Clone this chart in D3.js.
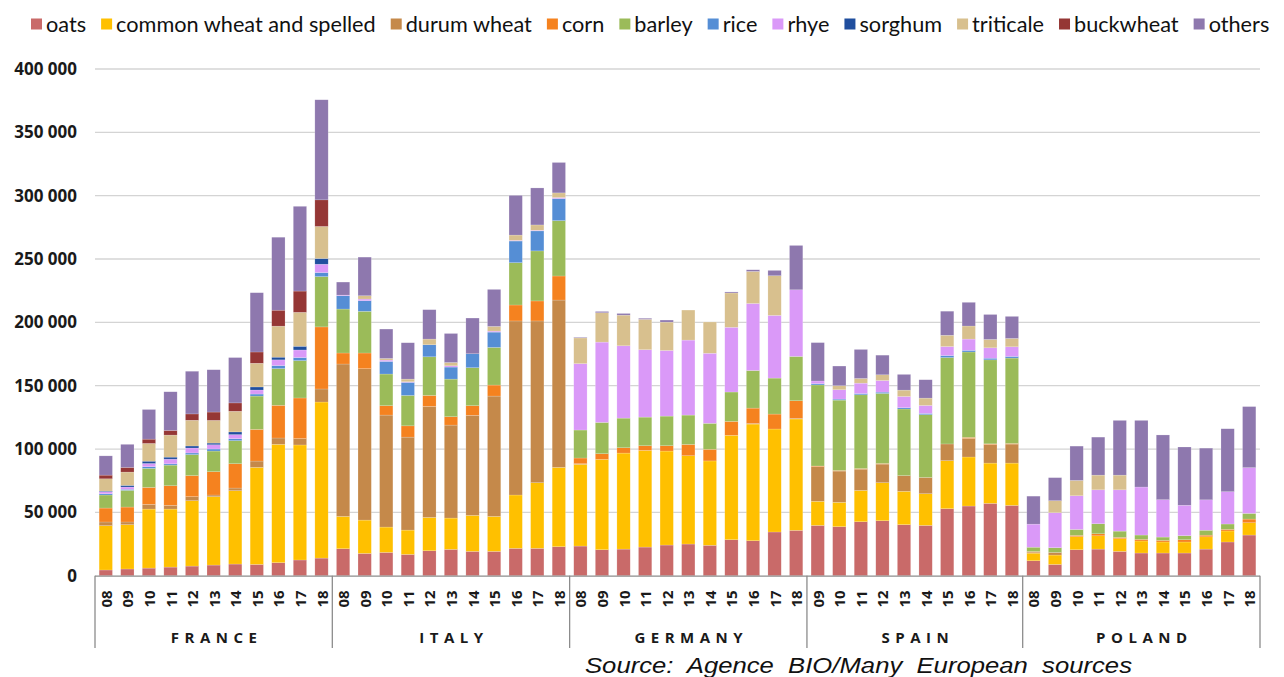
<!DOCTYPE html>
<html><head><meta charset="utf-8">
<script src="https://cdn.jsdelivr.net/npm/d3@7"></script>
<style>body{margin:0;background:#fff}svg{display:block}</style>
</head><body>
<svg id="c" width="1284" height="677"></svg>
<script>
// ---- data (values in thousand tonnes) ----
const countries = ["FRANCE", "ITALY", "GERMANY", "SPAIN", "POLAND"];
const yearsFrance  = ["08","09","10","11","12","13","14","15","16","17","18"];
const yearsItaly   = ["08","09","10","11","12","13","14","15","16","17","18"];
const yearsGermany = ["08","09","10","11","12","13","14","15","16","17","18"];
const yearsSpain   = ["09","10","11","12","13","14","15","16","17","18"];
const yearsPoland  = ["08","09","10","11","12","13","14","15","16","17","18"];
const countryYears = [yearsFrance, yearsItaly, yearsGermany, yearsSpain, yearsPoland];

const seriesNames = ["oats","common wheat and spelled","durum wheat","corn","barley","rice","rhye","sorghum","triticale","buckwheat","others"];
const seriesColors = ["#C96A69","#FFC000","#C5894A","#F5821F","#9BBB59","#558ED5","#DA99F8","#1F4E9E","#D8C08E","#953735","#8E78AE"];

// order: France(11), Italy(11), Germany(11), Spain(10), Poland(11)
const oats = [4.5,5.3,6,6.8,7.6,8.4,9.2,8.9,10.3,12.4,13.9,
  21.3,17.6,18.4,16.8,19.7,20.8,19.2,19.2,21.6,21.6,22.9,
  23.4,20.5,21,22.6,24.2,25,24,28.4,27.6,34.5,35.8,
  39.7,38.7,42.6,43.4,40.3,39.7,52.9,55,57.1,55.5,
  11.8,8.9,20.5,21,19.2,17.9,17.9,17.9,21,26.6,32.1];
const commonWheat = [35,35,46.6,45.8,51.6,54,57.9,76.6,93.4,90.8,123.2,
  25.5,26.3,20,19.2,26.3,24.7,28.4,27.6,42.1,51.8,62.6,
  64.5,71.3,75.8,76.3,74.2,69.7,66.6,82.4,92.1,81.3,87.9,
  19,19.2,24.7,30,26.3,25,37.9,38.7,31.8,33.4,
  6,7.4,10.3,10.5,10,9.5,8.7,8.7,9.7,8.7,9.7];
const durumWheat = [2.9,2.1,3.7,2.9,3.2,1.3,2.1,5,5,5,10.3,
  120.3,119.5,88.4,73.4,87.6,73.4,79,95,137.4,127.7,132.1,
  0.5,0,0,0,0,0,0,0,0.5,0,0.5,
  27.4,24.7,16.8,14.7,12.4,12.9,13.2,14.7,14.7,15,
  0.8,2.1,0,0,0,0,0,0,0,0,0];
const corn = [11,11.8,13.4,15.5,16.6,18.4,19.2,25,25.8,32.1,49,
  8.7,12.4,7.4,8.9,8.7,6.6,7.6,8.7,12.6,15.8,19,
  4.5,4.5,4.2,3.7,4.2,8.9,9.2,11,12.1,11.8,13.9,
  0.5,0.5,0.5,0.5,0,0,0,0.8,0.5,0.5,
  0.5,0,1,1.6,1,1.3,1.3,1.8,1.3,1.3,2.9];
const barley = [10.3,13.2,15,16.3,16.6,16.3,18.2,26.3,29,29.5,39.7,
  34.7,32.9,25,24,30.5,29.7,30,29.7,33.4,39.5,43.7,
  22.1,24.7,23.4,22.6,23.4,23.2,20.5,23.2,29.7,28.4,35,
  64,55.5,58.2,55.3,52.6,49.5,68.2,67.4,66.3,67.4,
  3.4,3.7,4.7,7.9,5,3.4,2.6,3.2,3.9,4.2,4.5];
const rice = [1,0.8,1.3,1,1.3,1.6,1.6,1.6,2.4,2.4,3.2,
  10.5,8.4,10,10.3,9.5,9.5,11,12.1,17.1,15.8,17.4,
  0,0,0,0,0,0,0,0,0,0,0,
  1,0.8,1,1,1,1,1.6,1.3,1.3,1.3,
  0,0,0,0,0,0,0,0,0,0,0];
const rhye = [1.6,1.8,2.6,3.7,3.9,3.4,3.2,3.2,4.5,6,6.6,
  0.5,1.3,1,0.5,0,1,0,0.8,0.5,0.5,0.8,
  52.4,63.4,57.1,53.2,51.8,59.2,55.3,51.1,52.9,49.5,52.6,
  2.1,7.4,8.2,9.2,8.9,6.3,7.1,8.9,8.2,7.6,
  18.2,27.6,26.6,26.8,32.6,37.9,29.5,24,24,25.5,36.1];
const sorghum = [0.5,1.3,1.8,1.6,1.6,1.3,2.1,2.4,2.1,2.9,4.5,
  0,0,0,0,0,0,0,0,0,0,0,
  0,0,0,0,0,0,0,0,0,0,0,
  0,0,0,0,0,0,0,0,0,0,
  0,0,0,0,0,0,0,0,0,0,0];
const triticale = [9.7,10.5,14,17.4,20.3,17.9,16.3,18.7,24.5,26.8,25.3,
  0,2.6,1.3,2.1,4.5,2.6,0,3.7,4.2,4.2,3.7,
  20.3,23.2,24.2,24,22.4,23.7,24.7,27.1,25.3,31.3,0,
  0,3.2,3.7,4.5,5,5.8,8.9,10.3,6.6,6.6,
  0,9.5,12.1,11.6,11.6,0,0,0,0,0,0];
const buckwheat = [2.9,3.7,3.4,3.7,5,6.6,6.6,8.9,12.6,16.8,21,
  0,0,0,0,0,0,0,0,0,0,0,
  0,0,0,0,0,0,0,0,0,0,0,
  0,0,0,0,0,0,0,0,0,0,
  0,0,0,0,0,0,0,0,0,0,0];
const others = [15.2,18.2,23.4,30.5,33.7,33.4,35.8,46.8,57.6,66.9,79,
  10.3,30.5,23.2,28.7,23.2,22.9,28.2,29.2,31.3,29.2,24,
  0.5,1,1.3,0.8,1.6,0,0,0.8,1.3,4.2,35,
  30.3,15.5,22.9,15.5,12.4,14.5,19,18.7,19.7,17.4,
  22.1,18.2,27.1,30,43.2,52.6,51.1,46,40.8,49.7,48.2];
const seriesValues = [oats, commonWheat, durumWheat, corn, barley, rice, rhye, sorghum, triticale, buckwheat, others];

const yTicks = [0, 50000, 100000, 150000, 200000, 250000, 300000, 350000, 400000];
const sourceText = "Source:  Agence  BIO/Many  European  sources";

// ---- build table ----
const rows = [];
countries.forEach((c, ci) => countryYears[ci].forEach(y => rows.push({key: c + "-" + y, country: c, year: y})));
rows.forEach((r, i) => seriesNames.forEach((s, si) => r[s] = seriesValues[si][i] * 1000));

const svg = d3.select("#c");
const x0 = 95, x1 = 1260, yBase = 575.7, yTop = 69;

const x = d3.scaleBand().domain(rows.map(r => r.key)).range([x0, x1]).paddingInner(0.383).paddingOuter(0.1915);
const y = d3.scaleLinear().domain([0, 400000]).range([yBase, yTop]);
const color = d3.scaleOrdinal().domain(seriesNames).range(seriesColors);

// gridlines
svg.append("g").selectAll("line").data(yTicks.filter(t => t > 0)).join("line")
  .attr("x1", x0).attr("x2", x1).attr("y1", d => y(d)).attr("y2", d => y(d))
  .attr("stroke", "#d4d4d4").attr("stroke-width", 1.3);

// y axis labels
const fmt = v => d3.format(",")(v).replace(/,/g, " ");
const yAxis = svg.append("g").attr("transform", `translate(${x0},0)`)
  .call(d3.axisLeft(y).tickValues(yTicks).tickFormat(fmt).tickSize(0).tickPadding(18));
yAxis.select(".domain").remove();
yAxis.selectAll("text").attr("font-family", "Open Sans, sans-serif").attr("font-weight", "bold")
  .attr("font-size", 17).attr("fill", "#1a1a1a");

// bars
const stack = d3.stack().keys(seriesNames)(rows);
svg.append("g").selectAll("g").data(stack).join("g").attr("fill", d => color(d.key))
  .selectAll("rect").data(d => d.filter(s => s[1] - s[0] > 0)).join("rect")
  .attr("x", d => x(d.data.key)).attr("width", x.bandwidth())
  .attr("y", d => y(d[1])).attr("height", d => Math.max(0, y(d[0]) - y(d[1])))
  .attr("stroke", "#ffffff").attr("stroke-opacity", 0.35).attr("stroke-width", 0.5);

// category axis
const ax = svg.append("g");
ax.append("line").attr("x1", x0).attr("x2", x1).attr("y1", yBase + 0.5).attr("y2", yBase + 0.5)
  .attr("stroke", "#8c8c8c").attr("stroke-width", 1.3);
const groupBounds = countries.map(c => {
  const ks = rows.filter(r => r.country === c).map(r => r.key);
  const off = (x.step() - x.bandwidth()) / 2;
  return {c, a: x(ks[0]) - off, b: x(ks[ks.length - 1]) + x.bandwidth() + off};
});
const seps = [groupBounds[0].a, ...groupBounds.map(g => g.b)];
ax.selectAll("line.sep").data(seps).join("line").attr("class", "sep")
  .attr("x1", d => d).attr("x2", d => d).attr("y1", yBase).attr("y2", 648)
  .attr("stroke", "#8c8c8c").attr("stroke-width", 1.3);
ax.selectAll("text.yr").data(rows).join("text").attr("class", "yr")
  .attr("transform", d => `translate(${x(d.key) + x.bandwidth() / 2},599) rotate(-90)`)
  .attr("text-anchor", "middle").attr("dominant-baseline", "central")
  .attr("font-family", "Open Sans, sans-serif").attr("font-weight", "bold").attr("font-size", 15)
  .attr("fill", "#1a1a1a").text(d => d.year);
ax.selectAll("text.ct").data(groupBounds).join("text").attr("class", "ct")
  .attr("x", d => (d.a + d.b) / 2 + 3).attr("y", 637)
  .attr("text-anchor", "middle").attr("dominant-baseline", "central")
  .attr("font-family", "Open Sans, sans-serif").attr("font-weight", "bold").attr("font-size", 15)
  .attr("letter-spacing", 5.5).attr("fill", "#1a1a1a").text(d => d.c);

// legend
const lg = svg.append("g");
const legFont = 21;
const items = seriesNames.map((s, i) => {
  const g = lg.append("g");
  g.append("rect").attr("width", 11).attr("height", 11).attr("y", 18.5).attr("fill", seriesColors[i]);
  const t = g.append("text").attr("x", 15).attr("y", 24).attr("dominant-baseline", "central")
    .attr("font-family", "Lato, sans-serif").attr("font-size", legFont).attr("fill", "#111").text(s);
  return {g, t, w: t.node().getComputedTextLength()};
});
const gap = 15;
const totalW = d3.sum(items, d => 15 + d.w) + gap * (items.length - 1);
const k = (1280 - 31) / totalW;
let cx = 31;
items.forEach(it => {
  it.t.attr("font-size", legFont * k);
  const w = it.t.node().getComputedTextLength();
  it.g.attr("transform", `translate(${cx},0)`);
  cx += 15 + w + gap;
});

// source
svg.append("text").attr("x", 585).attr("y", 673).attr("font-family", "Liberation Sans, Arial, sans-serif")
  .attr("font-style", "italic").attr("font-size", 22).attr("fill", "#111")
  .attr("textLength", 547).attr("lengthAdjust", "spacingAndGlyphs")
  .style("white-space", "pre").text(sourceText);
</script>
</body></html>
